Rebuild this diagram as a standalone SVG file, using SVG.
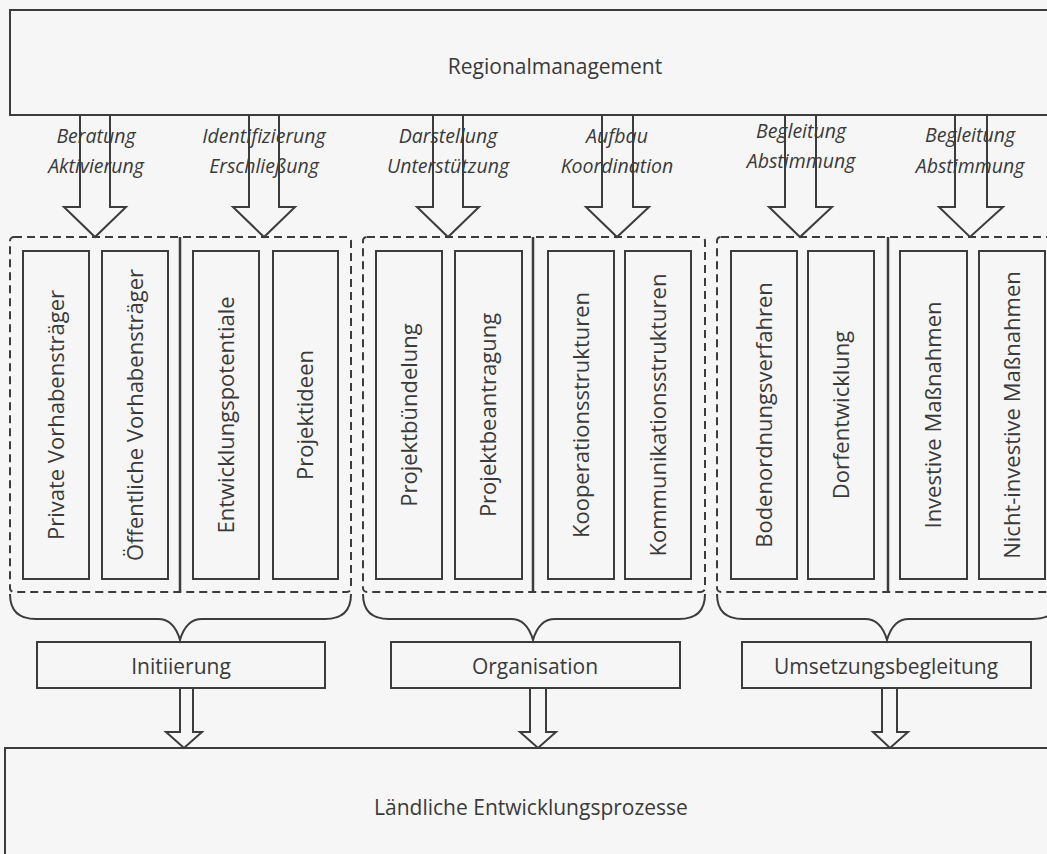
<svg xmlns="http://www.w3.org/2000/svg" width="1047" height="854" viewBox="0 0 1047 854">
<style>
.bg{fill:#f6f6f6}
.box{fill:none;stroke:#3c3c3c;stroke-width:2}
.grp{fill:none;stroke:#3c3c3c;stroke-width:2;stroke-dasharray:8 5}
.div{stroke:#3c3c3c;stroke-width:2.5}
.arr{fill:none;stroke:#3c3c3c;stroke-width:2;stroke-linejoin:miter}
.t{font-family:"Open Sans","Noto Sans",sans-serif;fill:#3a3a3a;text-anchor:middle}
.big{font-size:21px}
.v{font-size:22px}
.it{font-size:19.5px;font-style:italic}
</style>
<rect class="bg" x="0" y="0" width="1047" height="854"/>

<g id="regionalmanagement">
<rect class="box" x="10" y="10" width="1050" height="105"/>
<text class="t big" x="555" y="74">Regionalmanagement</text>
</g>

<g id="labels-top">
<text class="t it" x="96" y="143">Beratung</text>
<text class="t it" x="96" y="173">Aktivierung</text>
<text class="t it" x="264" y="143">Identifizierung</text>
<text class="t it" x="264" y="173">Erschließung</text>
<text class="t it" x="448" y="143">Darstellung</text>
<text class="t it" x="448" y="173">Unterstützung</text>
<text class="t it" x="617" y="143">Aufbau</text>
<text class="t it" x="617" y="173">Koordination</text>
<text class="t it" x="801" y="138">Begleitung</text>
<text class="t it" x="801" y="168">Abstimmung</text>
<text class="t it" x="970" y="142">Begleitung</text>
<text class="t it" x="970" y="173">Abstimmung</text>
</g>

<g id="group-initiierung">
<rect class="grp" x="10" y="237" width="341" height="355" rx="4"/>
<line class="div" x1="180" y1="237" x2="180" y2="592"/>
<rect class="box" x="23" y="251" width="66" height="328"/>
<rect class="box" x="102" y="251" width="66" height="328"/>
<rect class="box" x="193" y="251" width="66" height="328"/>
<rect class="box" x="273" y="251" width="65" height="328"/>
<text class="t v" transform="translate(64,415) rotate(-90)">Private Vorhabensträger</text>
<text class="t v" transform="translate(143,415) rotate(-90)">Öffentliche Vorhabensträger</text>
<text class="t v" transform="translate(234,415) rotate(-90)">Entwicklungspotentiale</text>
<text class="t v" transform="translate(313,415) rotate(-90)">Projektideen</text>
</g>

<g id="group-organisation">
<rect class="grp" x="363" y="237" width="342" height="355" rx="4"/>
<line class="div" x1="533" y1="237" x2="533" y2="592"/>
<rect class="box" x="376" y="251" width="66" height="328"/>
<rect class="box" x="455" y="251" width="67" height="328"/>
<rect class="box" x="548" y="251" width="66" height="328"/>
<rect class="box" x="625" y="251" width="66" height="328"/>
<text class="t v" transform="translate(417,415) rotate(-90)">Projektbündelung</text>
<text class="t v" transform="translate(496,415) rotate(-90)">Projektbeantragung</text>
<text class="t v" transform="translate(589,415) rotate(-90)">Kooperationsstrukturen</text>
<text class="t v" transform="translate(666,415) rotate(-90)">Kommunikationsstrukturen</text>
</g>

<g id="group-umsetzung">
<rect class="grp" x="717" y="237" width="342" height="355" rx="4"/>
<line class="div" x1="888" y1="237" x2="888" y2="592"/>
<rect class="box" x="731" y="251" width="66" height="328"/>
<rect class="box" x="808" y="251" width="66" height="328"/>
<rect class="box" x="900" y="251" width="67" height="328"/>
<rect class="box" x="979" y="251" width="66" height="328"/>
<text class="t v" transform="translate(772,415) rotate(-90)">Bodenordnungsverfahren</text>
<text class="t v" transform="translate(849,415) rotate(-90)">Dorfentwicklung</text>
<text class="t v" transform="translate(941,415) rotate(-90)">Investive Maßnahmen</text>
<text class="t v" transform="translate(1020,415) rotate(-90)">Nicht-investive Maßnahmen</text>
</g>

<g id="initiierung">
<rect class="box" x="37" y="642" width="288" height="46"/>
<text class="t big" x="181" y="674">Initiierung</text>
</g>
<g id="organisation">
<rect class="box" x="391" y="642" width="289" height="46"/>
<text class="t big" x="535" y="674">Organisation</text>
</g>
<g id="umsetzungsbegleitung">
<rect class="box" x="742" y="642" width="289" height="46"/>
<text class="t big" x="886" y="674">Umsetzungsbegleitung</text>
</g>

<g id="laendliche-entwicklungsprozesse">
<rect class="box" x="5" y="748" width="1060" height="120"/>
<text class="t big" x="531" y="815">Ländliche Entwicklungsprozesse</text>
</g>

<g id="connectors">
<path class="arr" d="M80,115 V207 H64 L95,237 L126,207 H110 V115"/>
<path class="arr" d="M249,115 V207 H233 L264,237 L295,207 H279 V115"/>
<path class="arr" d="M433,115 V207 H417 L448,237 L479,207 H463 V115"/>
<path class="arr" d="M602,115 V207 H586 L617,237 L649,207 H633 V115"/>
<path class="arr" d="M785,115 V207 H769 L800,237 L832,207 H816 V115"/>
<path class="arr" d="M955,115 V207 H939 L970,237 L1003,207 H987 V115"/>

<path class="arr" d="M10,594 Q10,619 36,619 H158 Q174,619 180,640 Q186,619 202,619 H325 Q351,619 351,594"/>
<path class="arr" d="M363,594 Q363,619 389,619 H511 Q527,619 533,640 Q539,619 555,619 H679 Q705,619 705,594"/>
<path class="arr" d="M717,594 Q717,619 743,619 H865 Q881,619 887,640 Q893,619 909,619 H1033 Q1059,619 1059,594"/>

<path class="arr" d="M180,688 V732 H166 L184,748 L202,732 H193 V688"/>
<path class="arr" d="M530,688 V732 H520 L538,748 L556,732 H546 V688"/>
<path class="arr" d="M882,688 V732 H873 L890,748 L908,732 H897 V688"/>
</g>
</svg>
